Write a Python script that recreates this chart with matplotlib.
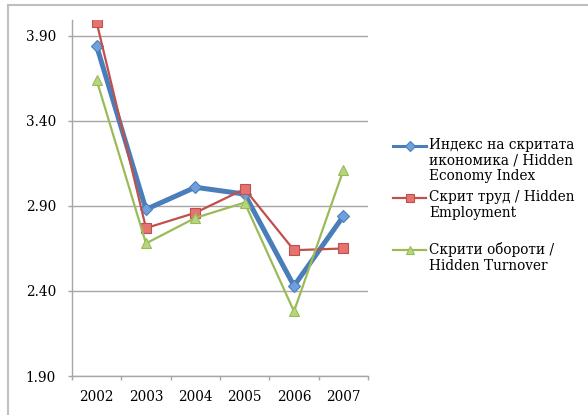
import matplotlib.pyplot as plt
from matplotlib.lines import Line2D

# data
years = ["2002", "2003", "2004", "2005", "2006", "2007"]
hidden_index = [3.84, 2.88, 3.01, 2.97, 2.43, 2.84]
hidden_employment = [3.98, 2.77, 2.86, 3.00, 2.64, 2.65]
hidden_turnover = [3.64, 2.68, 2.83, 2.92, 2.28, 3.11]
labels = ["Индекс на скритата\nикономика / Hidden\nEconomy Index",
          "Скрит труд / Hidden\nEmployment",
          "Скрити обороти /\nHidden Turnover"]
y_ticks = [1.90, 2.40, 2.90, 3.40, 3.90]

W, H, dpi = 588, 415, 100
plt.rcParams['font.family'] = ['DejaVu Serif']
plt.rcParams['font.size'] = 9.8

fig = plt.figure(figsize=(W / dpi, H / dpi), dpi=dpi)
ax = fig.add_axes([72 / W, 1 - 376 / H, 296 / W, 356 / H])

grey = "#A6A6A6"
styles = [
    dict(color="#4A7EBB", lw=3.6, marker="D", ms=6.5, mfc="#6FA0DC", mec="#4A7EBB", mew=0.8),
    dict(color="#C0504D", lw=1.6, marker="s", ms=7, mfc="#E57370", mec="#C0504D", mew=0.8),
    dict(color="#9BBB59", lw=1.6, marker="^", ms=7.5, mfc="#B5D67A", mec="#9BBB59", mew=0.8),
]
series = [hidden_index, hidden_employment, hidden_turnover]
x = list(range(len(years)))
for vals, st in zip(series, styles):
    ax.plot(x, vals, zorder=3, **st)

ax.set_xlim(-0.5, len(years) - 0.5)
ax.set_ylim(1.90, 3.994)
ax.set_yticks(y_ticks)
ax.set_yticklabels([f"{v:.2f}" for v in y_ticks])
ax.set_xticks(x)
ax.set_xticklabels(years)
ax.set_xticks([i - 0.5 for i in range(len(years) + 1)], minor=True)
ax.tick_params(axis="x", which="major", length=0, pad=10)
ax.tick_params(axis="x", which="minor", length=3, color=grey, width=1)
ax.tick_params(axis="y", length=3, color=grey, width=1, pad=8.5)
ax.grid(axis="y", color=grey, lw=1)
ax.set_axisbelow(True)
for s in ["top", "right"]:
    ax.spines[s].set_visible(False)
for s in ["left", "bottom"]:
    ax.spines[s].set_color(grey)
    ax.spines[s].set_linewidth(1)

# legend drawn by hand to mimic the spreadsheet layout
leg_y = [146, 198, 250]
for yy, st, lab in zip(leg_y, styles, labels):
    fy = 1 - yy / H
    fig.add_artist(Line2D([393 / W, 426 / W], [fy, fy], color=st["color"],
                          lw=min(st["lw"], 2.2)))
    fig.add_artist(Line2D([409.5 / W], [fy], marker=st["marker"], ms=st["ms"] - 1.5,
                          mfc=st["mfc"], mec=st["mec"], mew=0.8, ls="none"))
    fig.text(429 / W, 1 - (yy - 8) / H, lab, ha="left", va="top", linespacing=1.15)

# outer chart border (cut off at right and bottom)
fig.add_artist(Line2D([8 / W, 1], [1 - 5 / H, 1 - 5 / H], color="#BFBFBF", lw=1.5))
fig.add_artist(Line2D([8 / W, 8 / W], [0, 1 - 5 / H], color="#BFBFBF", lw=1.5))

fig.savefig("out.png", dpi=dpi)
